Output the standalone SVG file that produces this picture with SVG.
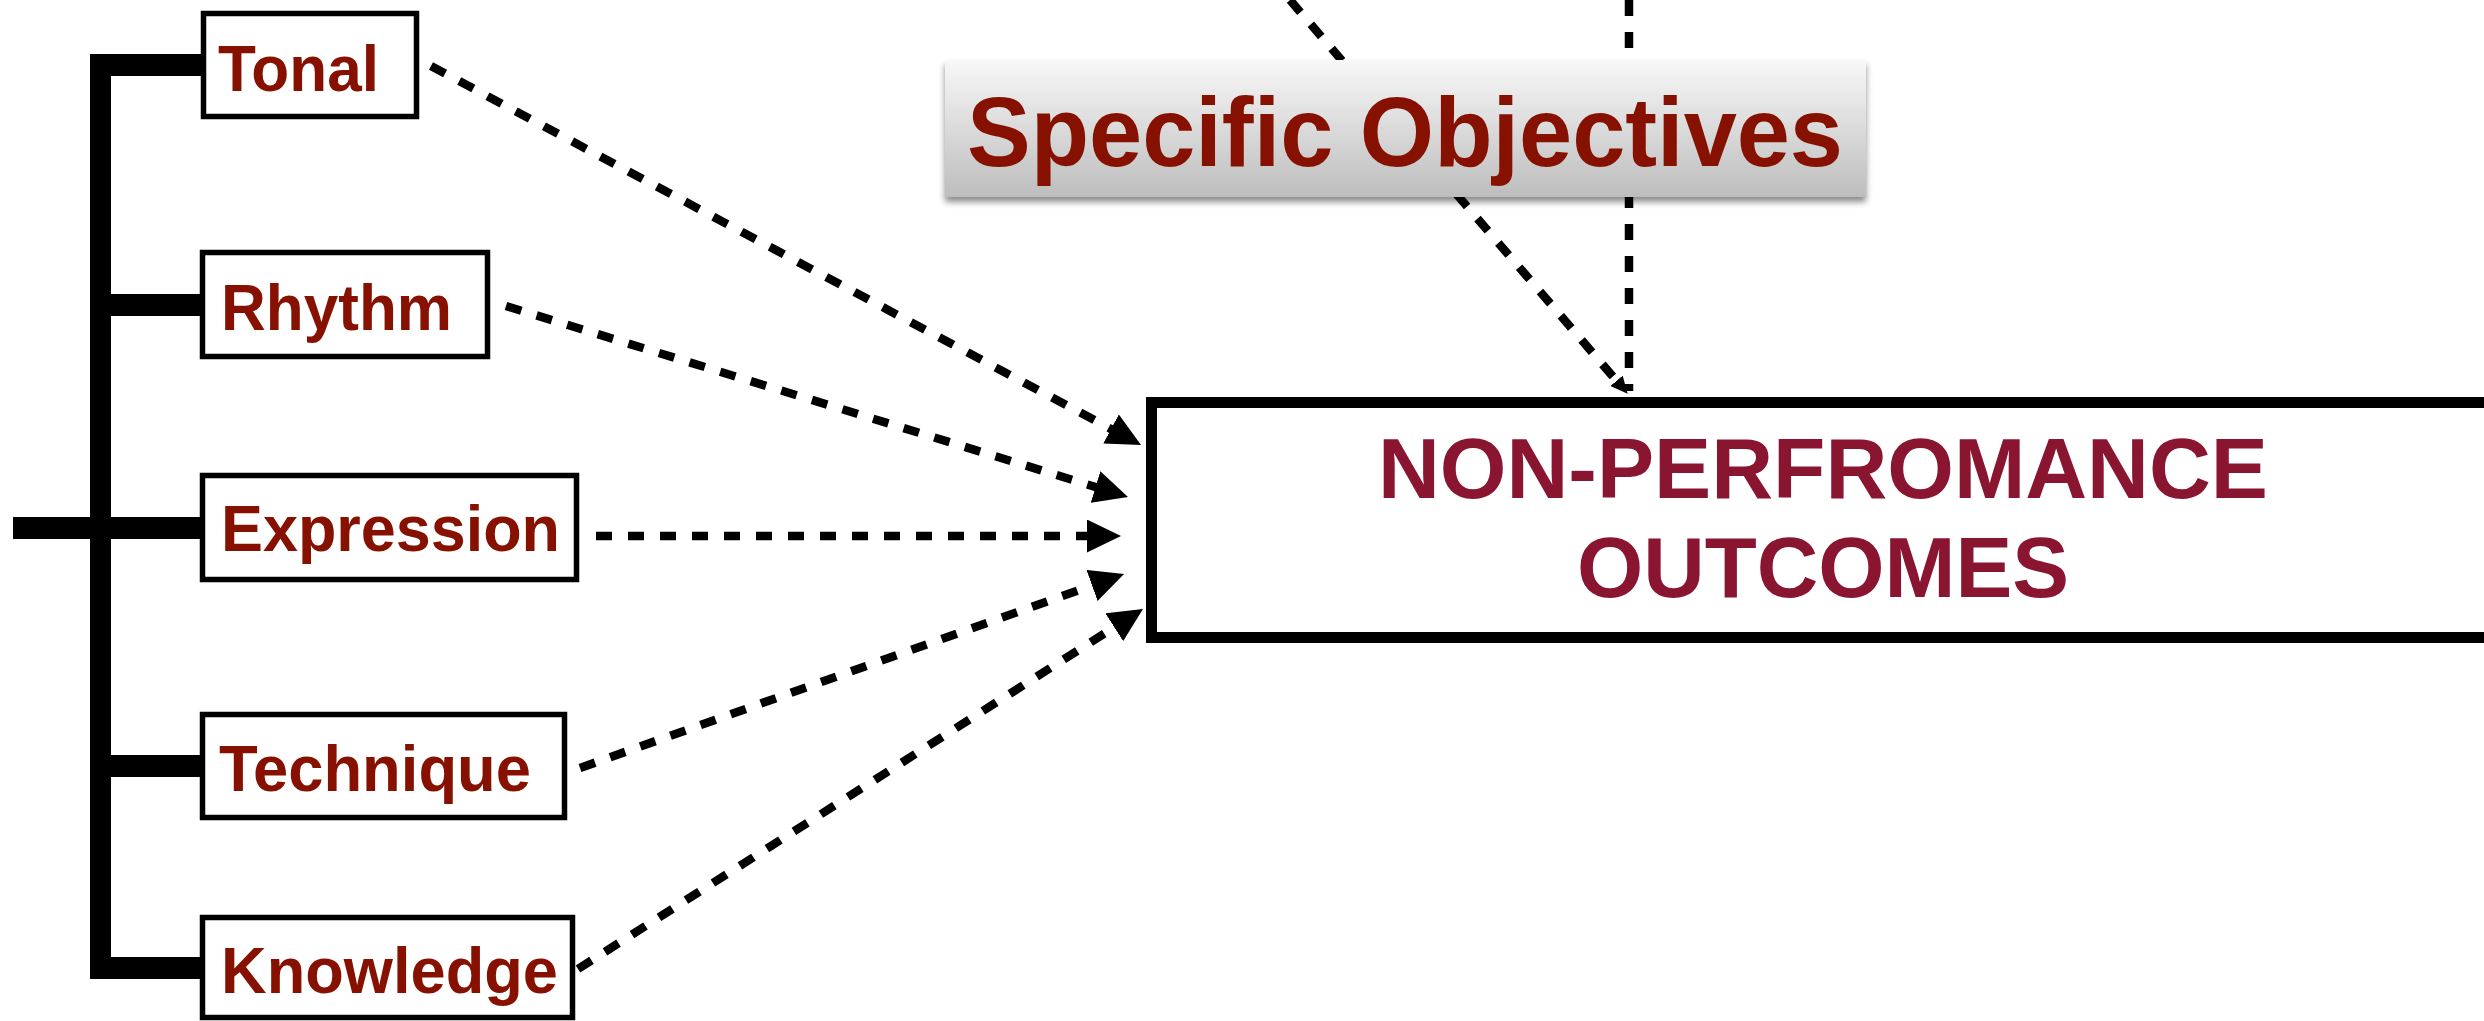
<svg xmlns="http://www.w3.org/2000/svg" width="2484" height="1021" viewBox="0 0 2484 1021">
  <style>
    .box { fill: #ffffff; stroke: #000000; stroke-width: 5.5; }
    .lbl { font-family: "Liberation Sans", Arial, sans-serif; font-weight: bold; font-size: 65px; fill: #861100; }
    .main { font-family: "Liberation Sans", Arial, sans-serif; font-weight: bold; font-size: 86px; fill: #8a1530; text-anchor: middle; }
    .title { font-family: "Liberation Sans", Arial, sans-serif; font-weight: bold; font-size: 99px; fill: #861100; text-anchor: middle; }
    .dash { fill: none; stroke: #000000; stroke-width: 8.5; stroke-dasharray: 16 16; }
    .bar { fill: #000000; }
  </style>
  <defs>
    <marker id="arrow" markerUnits="userSpaceOnUse" markerWidth="34" markerHeight="33" refX="14" refY="16.5" orient="auto">
      <path d="M0,0 L34,16.5 L0,33 z" fill="#000000"/>
    </marker>
    <marker id="arrowSmall" markerUnits="userSpaceOnUse" markerWidth="17" markerHeight="16" refX="8" refY="8" orient="auto">
      <path d="M0,0 L17,8 L0,16 z" fill="#000000"/>
    </marker>
    <linearGradient id="grad" x1="0" y1="0" x2="0" y2="1">
      <stop offset="0" stop-color="#f8f8f8"/>
      <stop offset="1" stop-color="#bdbdbd"/>
    </linearGradient>
    <filter id="shadow" x="-5%" y="-20%" width="110%" height="150%">
      <feDropShadow dx="0" dy="5" stdDeviation="3" flood-color="#000000" flood-opacity="0.45"/>
    </filter>
  </defs>

  <!-- connectors -->
  <g id="connectors">
    <line class="dash" x1="1290" y1="0" x2="1621.8" y2="386.9" marker-end="url(#arrowSmall)"/>
    <line class="dash" x1="1629" y1="0" x2="1629" y2="391"/>
    <line class="dash" x1="431" y1="66" x2="1123.4" y2="435.6" marker-end="url(#arrow)"/>
    <line class="dash" x1="506" y1="306" x2="1108.9" y2="491.1" marker-end="url(#arrow)"/>
    <line class="dash" x1="596" y1="536" x2="1101" y2="536" marker-end="url(#arrow)"/>
    <line class="dash" x1="580" y1="768" x2="1105.2" y2="580.7" marker-end="url(#arrow)"/>
    <line class="dash" x1="578" y1="969" x2="1126.1" y2="619.7" marker-end="url(#arrow)"/>
  </g>

  <!-- bracket -->
  <g id="bracket">
    <rect class="bar" x="90" y="54" width="21" height="925"/>
    <rect class="bar" x="90" y="54" width="112" height="22"/>
    <rect class="bar" x="90" y="294" width="112" height="22"/>
    <rect class="bar" x="13" y="517" width="189" height="22"/>
    <rect class="bar" x="90" y="755" width="112" height="22"/>
    <rect class="bar" x="90" y="957" width="112" height="22"/>
  </g>

  <g id="tonal">
    <rect class="box" x="203.5" y="13.5" width="213" height="103"/>
    <text class="lbl" x="218" y="90.5" textLength="161" lengthAdjust="spacingAndGlyphs">Tonal</text>
  </g>
  <g id="rhythm">
    <rect class="box" x="202.5" y="252.5" width="285" height="104"/>
    <text class="lbl" x="221" y="330" textLength="231" lengthAdjust="spacingAndGlyphs">Rhythm</text>
  </g>
  <g id="expression">
    <rect class="box" x="202.5" y="475.5" width="374" height="104"/>
    <text class="lbl" x="221" y="551" textLength="339" lengthAdjust="spacingAndGlyphs">Expression</text>
  </g>
  <g id="technique">
    <rect class="box" x="202.5" y="714.5" width="362" height="103"/>
    <text class="lbl" x="219" y="791" textLength="312" lengthAdjust="spacingAndGlyphs">Technique</text>
  </g>
  <g id="knowledge">
    <rect class="box" x="202.5" y="917.5" width="370" height="100"/>
    <text class="lbl" x="221" y="993" textLength="337" lengthAdjust="spacingAndGlyphs">Knowledge</text>
  </g>

  <g id="outcomes">
    <rect x="1151.5" y="402.5" width="1400" height="235" fill="#ffffff" stroke="#000000" stroke-width="11"/>
    <text class="main" x="1823" y="498" textLength="890" lengthAdjust="spacingAndGlyphs">NON-PERFROMANCE</text>
    <text class="main" x="1823" y="597" textLength="492" lengthAdjust="spacingAndGlyphs">OUTCOMES</text>
  </g>

  <g id="specific-objectives">
    <rect x="945" y="60" width="921" height="137" fill="url(#grad)" filter="url(#shadow)"/>
    <text class="title" x="1405" y="166" textLength="876" lengthAdjust="spacingAndGlyphs">Specific Objectives</text>
  </g>
</svg>
